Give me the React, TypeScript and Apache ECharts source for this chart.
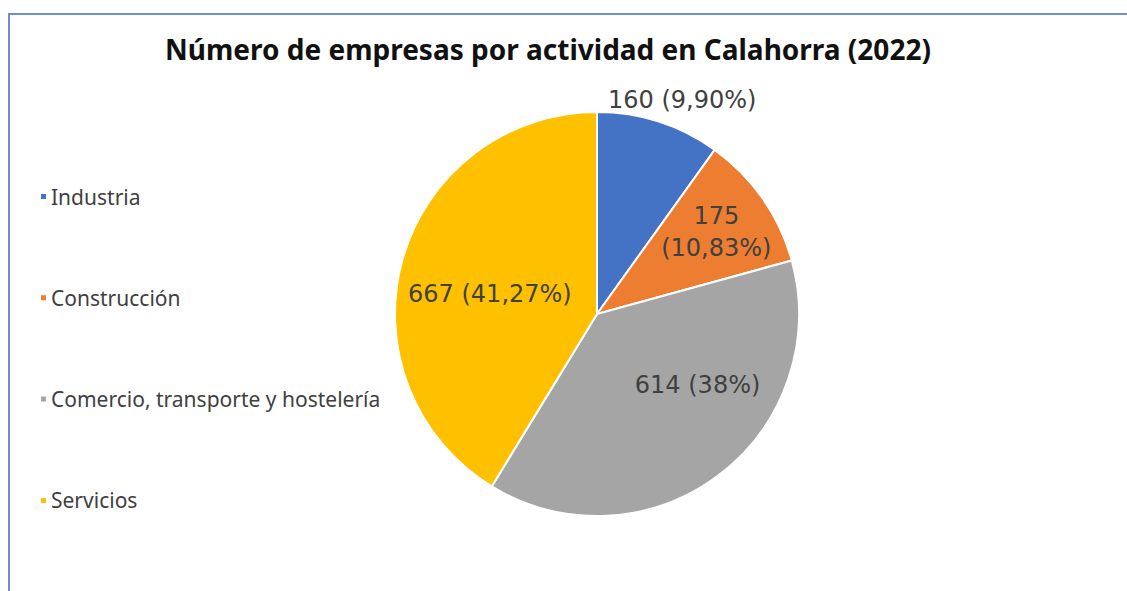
import React, { useEffect, useRef } from "react";
import * as echarts from "echarts";

const titleText = "Número de empresas por actividad en Calahorra (2022)";
const categories = ["Industria", "Construcción", "Comercio, transporte y hostelería", "Servicios"];
const values = [160, 175, 614, 667];
const percentLabels = ["9,90%", "10,83%", "38%", "41,27%"];
const colors = ["#4472C4", "#ED7D31", "#A5A5A5", "#FFC000"];

const FONT = "'Noto Sans', sans-serif";
const LABEL_FONT = "'DejaVu Sans', sans-serif";

export default function App() {
  const ref = useRef<HTMLDivElement>(null);
  useEffect(() => {
    document.body.style.margin = "0";
    const chart = echarts.init(ref.current!, null, { renderer: "svg" });
    const labelShift = [
      { dx: -57, dy: -18 },
      { dx: 34, dy: -23 },
      { dx: 38, dy: -12 },
      { dx: -7, dy: 8 },
    ];
    chart.setOption({
      animation: false,
      backgroundColor: "#ffffff",
      textStyle: { fontFamily: FONT },
      title: {
        text: titleText,
        left: 543,
        textAlign: "center",
        top: 30,
        textStyle: { fontFamily: FONT, fontWeight: "bold", fontSize: 28, color: "#111111" },
      },
      legend: {
        orient: "vertical",
        left: 34,
        top: 181,
        itemWidth: 7,
        itemHeight: 7,
        itemGap: 80.3,
        icon: "rect",
        textStyle: { fontFamily: FONT, fontSize: 21, color: "#404040", padding: [0, 0, 0, -1] },
        data: categories,
      },
      graphic: [
        {
          type: "rect",
          shape: { x: 9, y: 14, width: 1300, height: 800 },
          style: { fill: "none", stroke: "#6A8FD8", lineWidth: 2 },
          silent: true,
        },
      ],
      series: [
        {
          type: "pie",
          center: [597, 314],
          radius: [0, 202],
          startAngle: 90,
          clockwise: true,
          itemStyle: { borderColor: "#ffffff", borderWidth: 2 },
          labelLine: { show: false },
          label: {
            position: "inside",
            fontFamily: LABEL_FONT,
            fontSize: 24,
            color: "#404040",
            lineHeight: 32,
          },
          labelLayout: (p: any) => labelShift[p.dataIndex],
          data: categories.map((name, i) => ({
            name,
            value: values[i],
            itemStyle: { color: colors[i] },
            label:
              i === 0
                ? { position: "outside", formatter: `${values[i]} (${percentLabels[i]})` }
                : i === 1
                ? { formatter: `${values[i]}\n(${percentLabels[i]})` }
                : { formatter: `${values[i]} (${percentLabels[i]})` },
            labelLine: { show: false, length: 4, length2: 0 },
          })),
        },
      ],
    });
    return () => chart.dispose();
  }, []);
  return <div ref={ref} style={{ width: 1127, height: 591 }} />;
}
